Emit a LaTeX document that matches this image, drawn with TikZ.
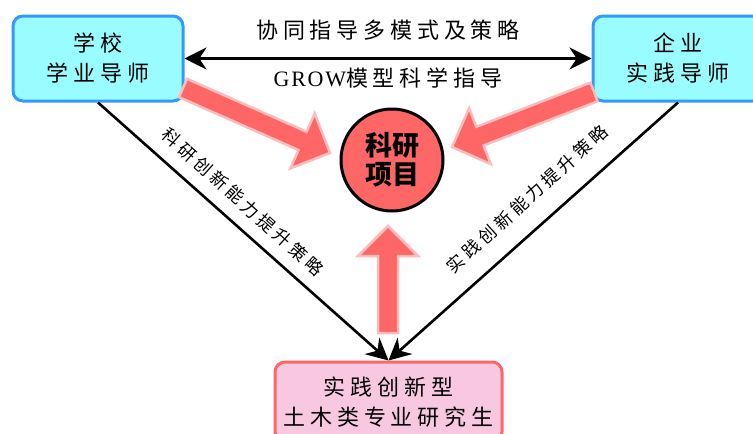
\documentclass[tikz,border=0pt]{standalone}
\usepackage{fontspec}
\usetikzlibrary{arrows.meta,calc}
\setmainfont{Noto Sans CJK SC}
\newfontfamily\cjk{Noto Sans CJK SC}[LetterSpace=22]
\newfontfamily\cjkc{Noto Sans CJK SC}
\newfontfamily\latinsp{Liberation Serif}[LetterSpace=8]
\definecolor{mcyan}{RGB}{153,252,255}
\definecolor{mblue}{RGB}{51,153,255}
\definecolor{mred}{RGB}{255,102,102}
\definecolor{mpink}{RGB}{248,200,224}
\definecolor{mpinkline}{RGB}{255,188,188}
\tikzset{
  base/.style={font=\cjk\fontsize{22}{30}\selectfont, align=center, text=black, inner sep=0pt},
  mentor/.style={base, draw=mblue, fill=mcyan, line width=3pt, rounded corners=10pt,
    minimum width=170pt, minimum height=85pt},
  gradbox/.style={base, draw=mred, fill=mpink, line width=3pt, rounded corners=10pt,
    minimum width=227pt, minimum height=80pt},
  hub/.style={circle, draw=black, fill=mred, line width=3pt, minimum size=102pt, inner sep=0pt,
    font=\cjkc\bfseries\fontsize{27}{29}\selectfont, align=center},
  link/.style={line width=2.6pt, draw=black, -{Stealth[length=22pt,width=22pt]}},
  fat/.style={fill=mred, draw=mpinkline, line width=2.5pt, line join=miter},
  toplbl/.style={font=\cjk\fontsize{22}{26}\selectfont, inner sep=0pt},
  diaglbl/.style={font=\cjk\fontsize{17.5}{20}\selectfont, inner sep=0pt},
}
\newcommand\fatarrow[2]{%
  \path ($(#2)!30pt!(#1)$) coordinate (fah);
  \draw[fat] ($(#1)!10pt!90:(#2)$) -- ($(fah)!10pt!90:(#2)$) -- ($(fah)!30pt!90:(#2)$)
    -- (#2) -- ($(fah)!30pt!-90:(#2)$) -- ($(fah)!10pt!-90:(#2)$)
    -- ($(#1)!10pt!-90:(#2)$) -- cycle;
}
\begin{document}
\begin{tikzpicture}[x=1pt,y=-1pt]
\useasboundingbox (0,0) rectangle (753,434);
\node[mentor] (school) at (98,58.5) {学校\\学业导师};
\node[mentor] (company) at (678,58.5) {企业\\实践导师};
\node[gradbox] (grad) at (388.5,402) {实践创新型\\土木类专业研究生};
\node[hub] (proj) at (392,160) {科研\\项目};

\draw[link, {Stealth[length=22pt,width=22pt]}-{Stealth[length=22pt,width=22pt]}] (school.east) -- (company.west);
\node[toplbl] (t1) at (388,30) {协同指导多模式及策略};
\node[toplbl] (t2) at (388,78) {{\latinsp GROW}模型科学指导};

\draw[link] (school.south) -- (grad.north);
\draw[link] (company.south) -- (grad.north);
\node[diaglbl, rotate=-42] (l1) at (243,202) {科研创新能力提升策略};
\node[diaglbl, rotate=42] (l2) at (527,199) {实践创新能力提升策略};

\coordinate (la) at (183,88);
\coordinate (lb) at (330,153);
\coordinate (ra) at (594,92);
\coordinate (rb) at (452,147);
\coordinate (va) at (388,333);
\coordinate (vb) at (388,226);
\fatarrow{la}{lb}
\fatarrow{ra}{rb}
\fatarrow{va}{vb}
\end{tikzpicture}
\end{document}
